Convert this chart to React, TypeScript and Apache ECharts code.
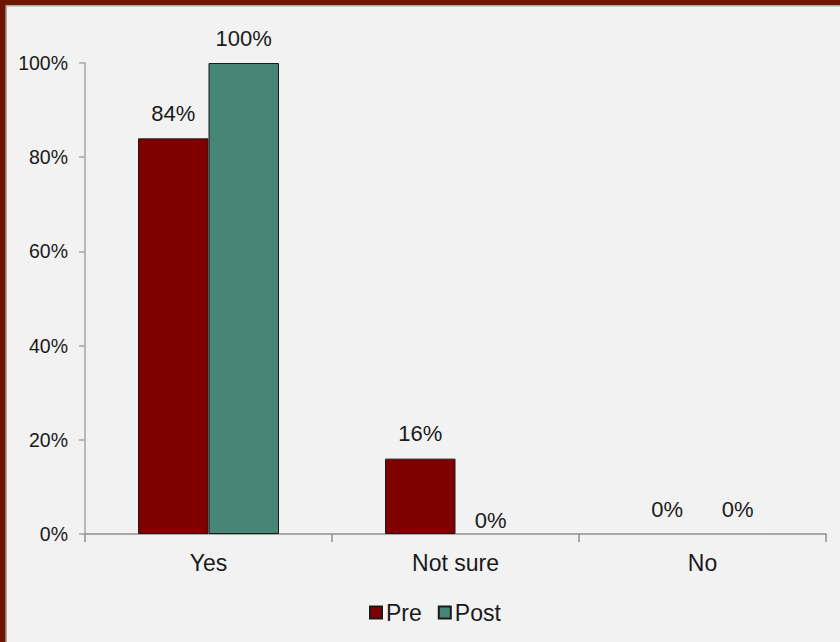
import React, { useEffect, useRef } from "react";
import * as echarts from "echarts";

const categories = ["Yes", "Not sure", "No"];
const preValues = [84, 16, 0];
const postValues = [100, 0, 0];
const seriesNames = ["Pre", "Post"];
const yTicks = { min: 0, max: 100, interval: 20 };

const FONT = "'Liberation Sans', Arial, sans-serif";

export default function App() {
  const ref = useRef<HTMLDivElement>(null);

  useEffect(() => {
    if (!ref.current) return;
    const chart = echarts.init(ref.current, null, { renderer: "svg" });

    const labelBase = {
      show: true,
      position: "top",
      distance: 14,
      formatter: "{c}%",
      fontFamily: FONT,
      fontSize: 22,
      color: "#1a1a1a",
    };

    const build = (vals: number[], tightIdx: number) =>
      vals.map((v, i) => {
        const item: any = { value: v };
        if (v === 0) item.itemStyle = { borderWidth: 0 };
        if (i === tightIdx) item.label = { distance: 3 };
        return item;
      });

    chart.setOption({
      animation: false,
      backgroundColor: "#f2f2f2",
      textStyle: { fontFamily: FONT },
      graphic: [
        { type: "rect", shape: { x: 0, y: 0, width: 840, height: 5 }, style: { fill: "#6e1500" }, z: 100 },
        { type: "rect", shape: { x: 0, y: 0, width: 5.5, height: 642 }, style: { fill: "#6e1500" }, z: 100 },
        { type: "rect", shape: { x: 5.5, y: 5, width: 834.5, height: 1.5 }, style: { fill: "#a9a9a9" }, z: 99 },
        { type: "rect", shape: { x: 5.5, y: 5, width: 1.5, height: 637 }, style: { fill: "#a9a9a9" }, z: 99 },
      ],
      grid: { left: 85, right: 14, top: 63, bottom: 108, containLabel: false },
      legend: {
        data: seriesNames,
        left: 364,
        top: 596,
        itemWidth: 12,
        itemHeight: 12,
        itemGap: 16,
        icon: "rect",
        textStyle: { fontFamily: FONT, fontSize: 23, color: "#1a1a1a", padding: [0, 0, 0, -1] },
      },
      xAxis: {
        type: "category",
        data: categories,
        axisLine: { lineStyle: { color: "#8f8f8f", width: 1.5 } },
        axisTick: { show: true, length: 8, lineStyle: { color: "#8f8f8f", width: 1.5 } },
        axisLabel: { fontFamily: FONT, fontSize: 23, color: "#1a1a1a", margin: 17 },
      },
      yAxis: {
        type: "value",
        min: yTicks.min,
        max: yTicks.max,
        interval: yTicks.interval,
        splitLine: { show: false },
        axisLine: { show: true, lineStyle: { color: "#a6a6a6", width: 1.5 } },
        axisTick: { show: true, length: 6, lineStyle: { color: "#a6a6a6", width: 1.5 } },
        axisLabel: { formatter: "{value}%", fontFamily: FONT, fontSize: 19.5, color: "#1a1a1a", margin: 17 },
      },
      series: [
        {
          name: seriesNames[0],
          type: "bar",
          data: build(preValues, -1),
          barWidth: 70.5,
          barGap: "0%",
          itemStyle: { color: "#800000", borderColor: "#1a1a1a", borderWidth: 1 },
          label: labelBase,
        },
        {
          name: seriesNames[1],
          type: "bar",
          data: build(postValues, 1),
          barWidth: 70.5,
          barGap: "0%",
          itemStyle: { color: "#478577", borderColor: "#1a1a1a", borderWidth: 1 },
          label: labelBase,
        },
      ],
    });

    return () => chart.dispose();
  }, []);

  return (
    <div
      ref={ref}
      style={{ position: "fixed", left: 0, top: 0, width: 840, height: 642 }}
    />
  );
}
